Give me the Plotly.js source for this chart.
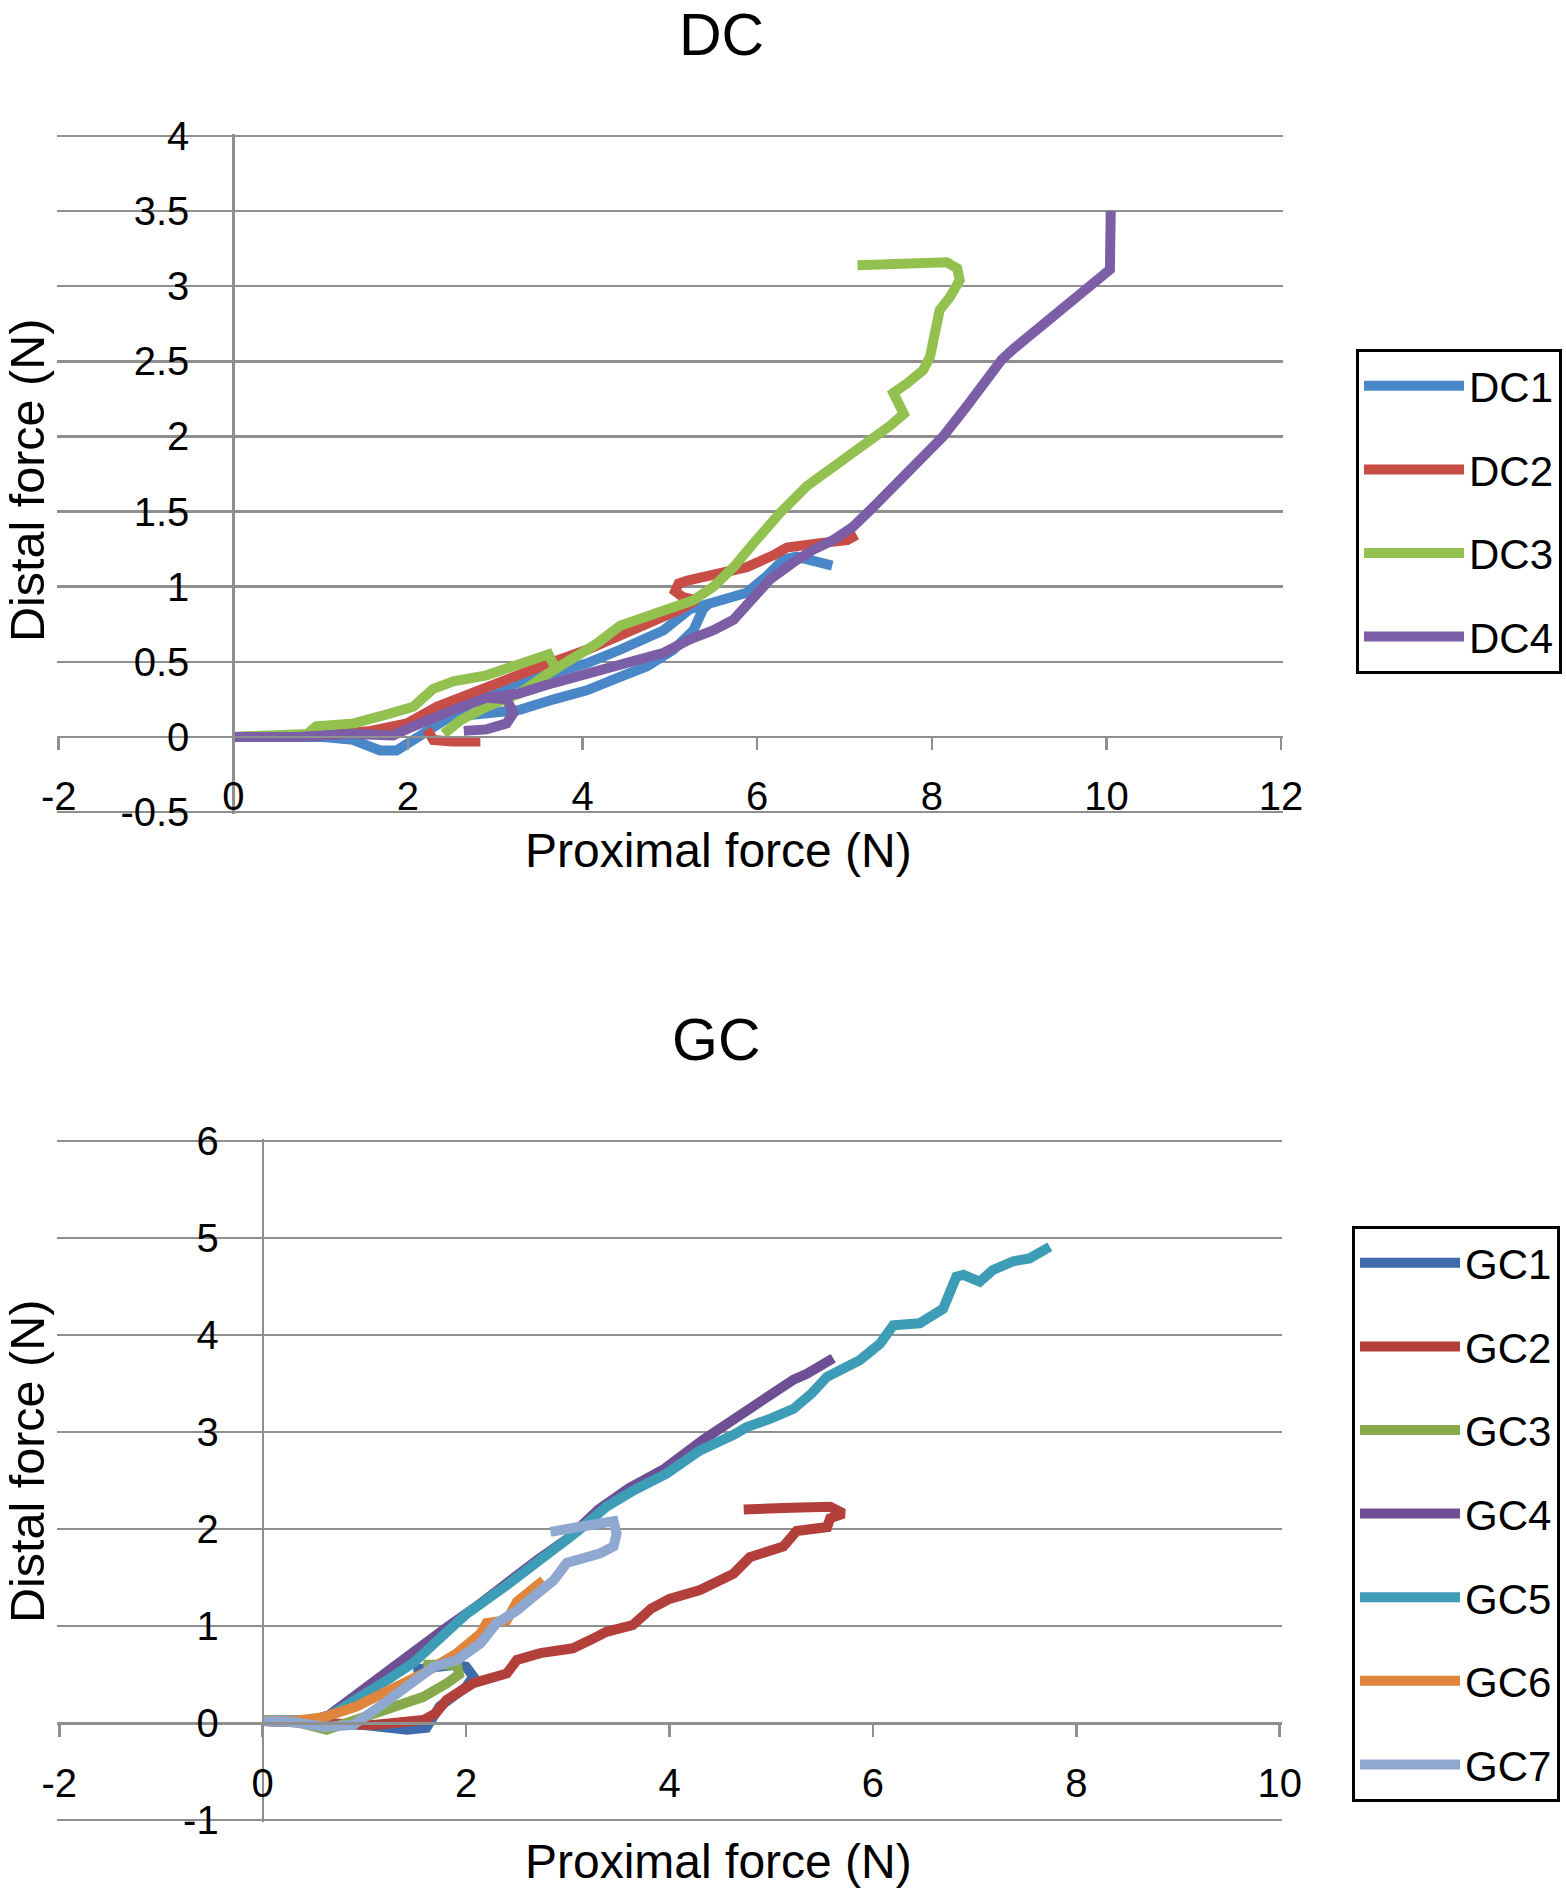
<!DOCTYPE html>
<html>
<head>
<meta charset="utf-8">
<script src="https://cdn.plot.ly/plotly-3.0.1.min.js"></script>
<style>
  body { margin: 0; background: #fff; }
  #chart { width: 1566px; height: 1897px; }
</style>
</head>
<body>
<div id="chart"></div>
<script>
// series (null = break in the line)
const dc1X = [0, 0.5, 1.0, 1.37, 1.55, 1.68, 1.87, 2.06, 2.22, 2.45, 2.8, 3.09, 3.5, 4.05, 4.43, 4.93, 5.23, 5.5, 5.88, 6.11, 6.30, 6.45, 6.64, 6.86, null, 2.45, 3.0, 3.28, 3.67, 4.05, 4.43, 4.74, 5.04, 5.27, 5.38, 5.45];
const dc1Y = [0, 0, 0, -0.02, -0.06, -0.09, -0.09, -0.02, 0.05, 0.13, 0.25, 0.33, 0.40, 0.49, 0.58, 0.71, 0.85, 0.90, 0.96, 1.07, 1.18, 1.20, 1.18, 1.14, null, 0.13, 0.16, 0.18, 0.25, 0.31, 0.40, 0.47, 0.58, 0.71, 0.85, 0.89];

const dc2X = [0, 0.5, 1.0, 1.57, 1.99, 2.33, 2.71, 3.09, 3.48, 4.05, 4.43, 4.74, 5.12, 5.3, 5.15, 5.06, 5.1, 5.2, 5.5, 5.88, 6.19, 6.34, 6.72, 7.03, 7.14, null, 2.22, 2.29, 2.5, 2.83];
const dc2Y = [0, 0, 0.01, 0.04, 0.09, 0.20, 0.29, 0.38, 0.46, 0.58, 0.67, 0.76, 0.85, 0.91, 0.93, 0.97, 1.02, 1.04, 1.08, 1.13, 1.21, 1.26, 1.29, 1.31, 1.345, null, 0.05, -0.02, -0.03, -0.03];

const dc3X = [0, 0.5, 0.85, 0.95, 1.38, 1.76, 2.06, 2.29, 2.52, 2.9, 3.28, 3.61, 3.67, null, 2.41, 2.6, 2.9, 3.28, 3.6, 3.86, 4.16, 4.43, 4.7, 4.93, 5.27, 5.5, 5.73, 5.96, 6.26, 6.57, 6.91, 7.22, 7.52, 7.68, 7.6, 7.56, 7.71, 7.9, 7.98, 8.06, 8.09, 8.21, 8.32, 8.29, 8.17, 7.15];
const dc3Y = [0, 0.01, 0.02, 0.07, 0.09, 0.15, 0.20, 0.32, 0.37, 0.41, 0.48, 0.55, 0.48, null, 0.02, 0.11, 0.20, 0.29, 0.42, 0.51, 0.62, 0.74, 0.80, 0.85, 0.91, 1.0, 1.13, 1.29, 1.49, 1.67, 1.81, 1.93, 2.07, 2.15, 2.23, 2.29, 2.35, 2.44, 2.53, 2.73, 2.84, 2.93, 3.04, 3.12, 3.16, 3.14];

const dc4X = [0, 0.73, 1.37, 1.83, 2.02, 2.22, 2.52, 2.9, 3.28, 3.67, 4.05, 4.54, 4.93, 5.23, 5.5, 5.73, 5.96, 6.15, 6.41, 6.64, 6.87, 7.1, 7.33, 7.64, 7.9, 8.13, 8.4, 8.63, 8.8, 8.93, 9.16, 9.43, 9.62, 9.81, 9.93, 10.04, 10.05, null, 2.9, 3.13, 3.21, 3.13, 2.9, 2.64];
const dc4Y = [0, 0, 0.02, 0.01, 0.06, 0.11, 0.18, 0.26, 0.29, 0.36, 0.42, 0.49, 0.56, 0.65, 0.71, 0.78, 0.93, 1.05, 1.16, 1.245, 1.31, 1.40, 1.53, 1.71, 1.87, 2.0, 2.2, 2.38, 2.51, 2.58, 2.69, 2.80, 2.90, 2.98, 3.04, 3.11, 3.50, null, 0.26, 0.25, 0.16, 0.09, 0.05, 0.04];

const gc1X = [0, 0.5, 1.0, 1.42, 1.61, 1.74, 1.87, 2.0, 2.07, 2.0, 1.9, 1.7, 1.48];
const gc1Y = [0.02, 0.01, -0.02, -0.07, -0.05, 0.17, 0.28, 0.37, 0.48, 0.58, 0.60, 0.57, 0.55];

const gc2X = [0, 0.5, 1.09, 1.58, 1.7, 1.81, 2.07, 2.4, 2.5, 2.73, 3.05, 3.25, 3.38, 3.64, 3.82, 4.0, 4.3, 4.63, 4.79, 5.12, 5.25, 5.55, 5.58, 5.71, 5.58, 5.2, 4.73];
const gc2Y = [0.02, 0.01, -0.02, 0.03, 0.1, 0.24, 0.41, 0.51, 0.65, 0.72, 0.77, 0.87, 0.94, 1.01, 1.18, 1.28, 1.37, 1.54, 1.71, 1.82, 1.98, 2.02, 2.11, 2.16, 2.23, 2.22, 2.20];

const gc3X = [0, 0.3, 0.63, 0.92, 1.25, 1.58, 1.81, 1.93, 1.91, 1.75, 1.58];
const gc3Y = [0.03, 0.02, -0.07, 0.03, 0.17, 0.27, 0.41, 0.50, 0.60, 0.61, 0.60];

const gc4X = [0, 0.5, 0.65, 0.9, 1.2, 1.5, 1.8, 2.1, 2.4, 2.7, 3.0, 3.3, 3.6, 3.95, 4.33, 4.69, 4.89, 4.96, 5.22, 5.35, 5.45, 5.61];
const gc4Y = [0.02, 0.03, 0.08, 0.28, 0.5, 0.75, 0.98, 1.2, 1.45, 1.68, 1.9, 2.2, 2.42, 2.62, 2.92, 3.18, 3.30, 3.36, 3.54, 3.60, 3.67, 3.76];

const gc5X = [0, 0.3, 0.55, 0.7, 0.86, 1.05, 1.25, 1.48, 1.74, 2.01, 2.4, 2.73, 3.1, 3.38, 3.65, 3.97, 4.3, 4.63, 4.76, 5.0, 5.22, 5.4, 5.55, 5.87, 6.07, 6.2, 6.46, 6.69, 6.82, 6.89, 7.05, 7.18, 7.38, 7.54, 7.74];
const gc5Y = [0.02, 0.02, 0.03, 0.1, 0.2, 0.33, 0.46, 0.62, 0.86, 1.13, 1.42, 1.68, 1.98, 2.23, 2.40, 2.57, 2.81, 2.97, 3.05, 3.14, 3.24, 3.4, 3.57, 3.74, 3.91, 4.10, 4.12, 4.27, 4.60, 4.62, 4.55, 4.67, 4.76, 4.79, 4.91];

const gc6X = [0, 0.3, 0.6, 0.92, 1.25, 1.58, 1.91, 2.14, 2.2, 2.4, 2.5, 2.66, 2.76];
const gc6Y = [0.02, 0.02, 0.06, 0.17, 0.34, 0.51, 0.72, 0.92, 1.03, 1.06, 1.25, 1.37, 1.47];

const gc7X = [0, 0.3, 0.6, 0.89, 1.15, 1.42, 1.68, 1.91, 2.14, 2.3, 2.5, 2.66, 2.86, 2.99, 3.32, 3.45, 3.48, 3.45, 3.3, 3.05, 2.83];
const gc7Y = [0.02, 0.01, -0.04, -0.02, 0.17, 0.37, 0.58, 0.65, 0.82, 1.03, 1.16, 1.30, 1.47, 1.65, 1.75, 1.82, 1.95, 2.08, 2.06, 2.01, 1.97];

const dcNames = ['DC1', 'DC2', 'DC3', 'DC4'];
const gcNames = ['GC1', 'GC2', 'GC3', 'GC4', 'GC5', 'GC6', 'GC7'];

// tick labels (plain hyphen minus like the original)
const dcXTicks = [-2, 0, 2, 4, 6, 8, 10, 12];
const dcXLabels = ['-2', '0', '2', '4', '6', '8', '10', '12'];
const dcYTicks = [-0.5, 0, 0.5, 1, 1.5, 2, 2.5, 3, 3.5, 4];
const dcYLabels = ['-0.5', '0', '0.5', '1', '1.5', '2', '2.5', '3', '3.5', '4'];
const gcXTicks = [-2, 0, 2, 4, 6, 8, 10];
const gcXLabels = ['-2', '0', '2', '4', '6', '8', '10'];
const gcYTicks = [-1, 0, 1, 2, 3, 4, 5, 6];
const gcYLabels = ['-1', '0', '1', '2', '3', '4', '5', '6'];

const W = 1566, H = 1897;
const FONT = 'Liberation Sans, Arial, Helvetica, sans-serif';
const GRID = '#8f8f8f';
const dcColors = ['#4a87c9', '#c94d47', '#92c150', '#7c5ea7'];
const gcColors = ['#3e6bab', '#b33f3b', '#86aa4c', '#6f4f94', '#3e9db6', '#e0853c', '#8fa8d0'];

// map a pixel box of the picture onto axis domain + range (small pad keeps edge grid lines)
function xFrame(px0, px1, v0, v1) {
  const u = (v1 - v0) / (px1 - px0), pad = 2;
  return { range: [v0 - pad * u, v1 + pad * u], domain: [(px0 - pad) / W, (px1 + pad) / W] };
}
function yFrame(px0, px1, v0, v1) {
  const u = (v1 - v0) / (px0 - px1), pad = 2;
  return { range: [v0 - pad * u, v1 + pad * u], domain: [1 - (px0 + pad) / H, 1 - (px1 - pad) / H] };
}
function paperAt(f, v) {
  return f.domain[0] + (v - f.range[0]) / (f.range[1] - f.range[0]) * (f.domain[1] - f.domain[0]);
}

const dcXF = xFrame(58.7, 1281, -2, 12);
const dcYF = yFrame(812, 136, -0.5, 4);
const gcXF = xFrame(59.3, 1279.7, -2, 10);
const gcYF = yFrame(1820, 1141, -1, 6);

function xAxis(f, yf, vals, labels) {
  return {
    domain: f.domain, range: f.range, anchor: 'free', position: paperAt(yf, 0),
    showgrid: false, zeroline: false, showline: true, linecolor: GRID, linewidth: 2.5,
    ticks: 'outside', ticklen: 12, tickwidth: 2.5, tickcolor: GRID,
    tickmode: 'array', tickvals: vals, ticktext: labels,
    tickfont: { family: FONT, size: 40, color: '#000' }, ticklabelstandoff: 12,
    fixedrange: true
  };
}
function yAxis(f, xf, vals, labels) {
  return {
    domain: f.domain, range: f.range, anchor: 'free', position: paperAt(xf, 0),
    showgrid: true, gridcolor: GRID, gridwidth: 2.5, zeroline: false,
    showline: true, linecolor: GRID, linewidth: 2.5, ticks: '',
    tickmode: 'array', tickvals: vals, ticktext: labels,
    tickfont: { family: FONT, size: 40, color: '#000' }, ticklabelstandoff: 35,
    fixedrange: true
  };
}

const traces = [];
[[dc1X, dc1Y], [dc2X, dc2Y], [dc3X, dc3Y], [dc4X, dc4Y]].forEach(function (s, i) {
  traces.push({
    x: s[0], y: s[1], name: dcNames[i], type: 'scatter', mode: 'lines',
    line: { color: dcColors[i], width: 10 }, connectgaps: false,
    xaxis: 'x', yaxis: 'y', legend: 'legend', legendgroup: dcNames[i]
  });
});
[[gc1X, gc1Y], [gc2X, gc2Y], [gc3X, gc3Y], [gc4X, gc4Y], [gc5X, gc5Y], [gc6X, gc6Y], [gc7X, gc7Y]].forEach(function (s, i) {
  traces.push({
    x: s[0], y: s[1], name: gcNames[i], type: 'scatter', mode: 'lines',
    line: { color: gcColors[i], width: 10 }, connectgaps: false,
    xaxis: 'x2', yaxis: 'y2', legend: 'legend2', legendgroup: gcNames[i]
  });
});

function txt(text, px, py, size, angle) {
  return {
    text: text, xref: 'paper', yref: 'paper', x: px / W, y: 1 - py / H,
    xanchor: 'center', yanchor: 'middle', showarrow: false, textangle: angle || 0,
    font: { family: FONT, size: size, color: '#000' }
  };
}

// one group per entry so tracegroupgap spreads the items like the original
function legendBox(px, py) {
  return {
    x: px / W, y: 1 - py / H, xanchor: 'left', yanchor: 'top',
    bgcolor: '#fff', bordercolor: '#000', borderwidth: 3,
    font: { family: FONT, size: 42, color: '#000' },
    itemwidth: 100, tracegroupgap: 26, traceorder: 'grouped'
  };
}

const layout = {
  width: W, height: H, autosize: false,
  margin: { l: 0, r: 0, t: 0, b: 0 },
  paper_bgcolor: '#fff', plot_bgcolor: 'rgba(0,0,0,0)',
  font: { family: FONT, color: '#000' },
  showlegend: true,
  xaxis: xAxis(dcXF, dcYF, dcXTicks, dcXLabels),
  yaxis: yAxis(dcYF, dcXF, dcYTicks, dcYLabels),
  xaxis2: xAxis(gcXF, gcYF, gcXTicks, gcXLabels),
  yaxis2: yAxis(gcYF, gcXF, gcYTicks, gcYLabels),
  legend: legendBox(1356, 349),
  legend2: legendBox(1352, 1226),
  annotations: [
    txt('DC', 721, 35, 59),
    txt('GC', 716, 1040, 59),
    txt('Proximal force (N)', 718, 851, 48),
    txt('Proximal force (N)', 718, 1861, 48),
    txt('Distal force (N)', 27, 481, 48.5, -90),
    txt('Distal force (N)', 27, 1462, 48.5, -90)
  ]
};

Plotly.newPlot('chart', traces, layout, { staticPlot: true });
</script>
</body>
</html>
